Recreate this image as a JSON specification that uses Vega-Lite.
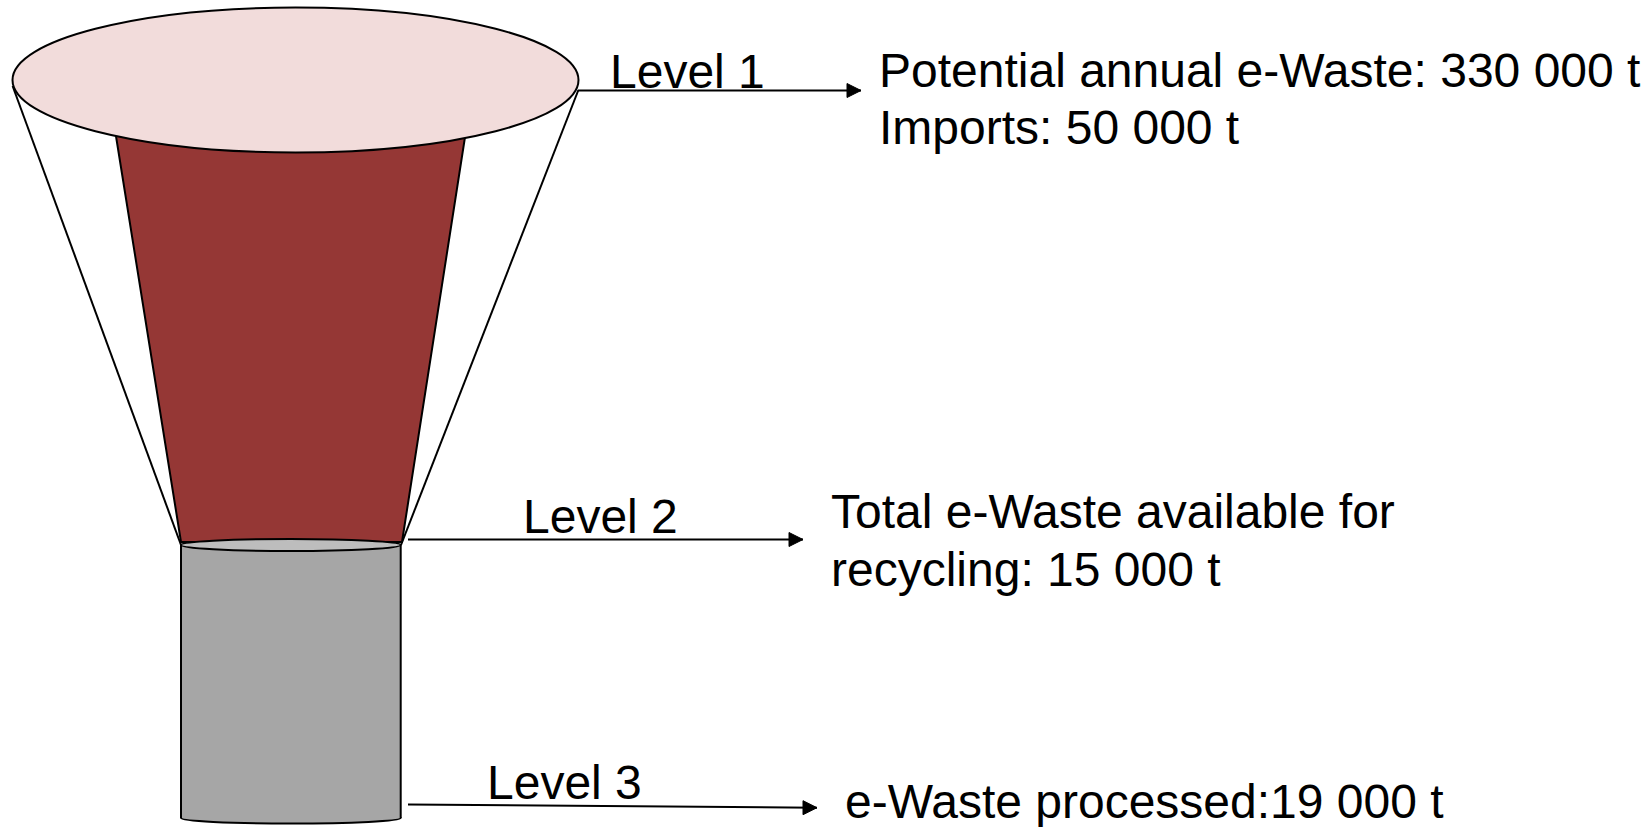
{
  "$schema": "https://vega.github.io/schema/vega-lite/v6.json",
  "width": 1649,
  "height": 827,
  "padding": 0,
  "autosize": {"type": "none"},
  "background": "white",
  "config": {"view": {"stroke": null}},
  "datasets": {
    "edges": [
      {"part": "outer-left", "x": 12.6, "y": 86, "x2": 181, "y2": 545},
      {"part": "outer-right", "x": 578.4, "y": 90, "x2": 401, "y2": 545}
    ],
    "trapezoid": [
      {"y": 105, "xl": 111, "xr": 470},
      {"y": 542, "xl": 181, "xr": 402}
    ],
    "cylinder": [
      {"x": 181, "x2": 400.7, "y": 545, "y2": 818}
    ],
    "cylsides": [
      {"x": 181, "y": 545, "x2": 181, "y2": 818},
      {"x": 400.7, "y": 545, "x2": 400.7, "y2": 818}
    ],
    "bottomEllipse": [{"x": 290.85, "y": 818}],
    "neckEllipse": [{"x": 290.85, "y": 545}],
    "topEllipse": [{"x": 295.5, "y": 80}],
    "arrows": [
      {"level": "Level 1", "x": 578, "y": 90.5, "x2": 861, "y2": 90.5},
      {"level": "Level 2", "x": 408, "y": 539.5, "x2": 803, "y2": 539.5},
      {"level": "Level 3", "x": 408, "y": 804.5, "x2": 817, "y2": 807.7}
    ],
    "labels": [
      {"text": "Level 1", "x": 610, "y": 88},
      {"text": "Potential annual e-Waste: 330 000 t", "x": 879, "y": 87},
      {"text": "Imports: 50 000 t", "x": 879, "y": 144},
      {"text": "Level 2", "x": 523, "y": 533},
      {"text": "Total e-Waste available for", "x": 831, "y": 528},
      {"text": "recycling: 15 000 t", "x": 831, "y": 586},
      {"text": "Level 3", "x": 487, "y": 799},
      {"text": "e-Waste processed:19 000 t", "x": 845, "y": 818}
    ]
  },
  "layer": [
    {
      "data": {"name": "edges"},
      "mark": {"type": "rule", "stroke": "black", "strokeWidth": 2},
      "encoding": {
        "x": {"field": "x", "type": "quantitative", "scale": {"domain": [0, 1649], "nice": false, "zero": false}, "axis": null},
        "y": {"field": "y", "type": "quantitative", "scale": {"domain": [0, 827], "nice": false, "zero": false, "reverse": true}, "axis": null},
        "x2": {"field": "x2"},
        "y2": {"field": "y2"}
      }
    },
    {
      "data": {"name": "trapezoid"},
      "mark": {"type": "area", "orient": "horizontal", "fill": "#953735", "stroke": "black", "strokeWidth": 2, "opacity": 1},
      "encoding": {
        "y": {"field": "y", "type": "quantitative"},
        "x": {"field": "xl", "type": "quantitative"},
        "x2": {"field": "xr"}
      }
    },
    {
      "data": {"name": "bottomEllipse"},
      "mark": {"type": "point", "filled": true, "fill": "#a6a6a6", "stroke": "black", "strokeWidth": 2, "opacity": 1, "size": 48268,
        "shape": "M -1 0 C -1 0.0276 -0.5523 0.05 0 0.05 C 0.5523 0.05 1 0.0276 1 0 C 1 -0.0276 0.5523 -0.05 0 -0.05 C -0.5523 -0.05 -1 -0.0276 -1 0 Z"},
      "encoding": {
        "x": {"field": "x", "type": "quantitative"},
        "y": {"field": "y", "type": "quantitative"}
      }
    },
    {
      "data": {"name": "cylinder"},
      "mark": {"type": "rect", "fill": "#a6a6a6", "strokeWidth": 0},
      "encoding": {
        "x": {"field": "x", "type": "quantitative"},
        "x2": {"field": "x2"},
        "y": {"field": "y", "type": "quantitative"},
        "y2": {"field": "y2"}
      }
    },
    {
      "data": {"name": "cylsides"},
      "mark": {"type": "rule", "stroke": "black", "strokeWidth": 2},
      "encoding": {
        "x": {"field": "x", "type": "quantitative"},
        "y": {"field": "y", "type": "quantitative"},
        "x2": {"field": "x2"},
        "y2": {"field": "y2"}
      }
    },
    {
      "data": {"name": "neckEllipse"},
      "mark": {"type": "point", "filled": true, "fill": "#bdbdbd", "stroke": "black", "strokeWidth": 2, "opacity": 1, "size": 48268,
        "shape": "M -1 0 C -1 0.0301 -0.5523 0.0545 0 0.0545 C 0.5523 0.0545 1 0.0301 1 0 C 1 -0.0301 0.5523 -0.0545 0 -0.0545 C -0.5523 -0.0545 -1 -0.0301 -1 0 Z"},
      "encoding": {
        "x": {"field": "x", "type": "quantitative"},
        "y": {"field": "y", "type": "quantitative"}
      }
    },
    {
      "data": {"name": "topEllipse"},
      "mark": {"type": "point", "filled": true, "fill": "#f2dcdb", "stroke": "black", "strokeWidth": 2, "opacity": 1, "size": 320356,
        "shape": "M -1 0 C -1 0.1415 -0.5523 0.2562 0 0.2562 C 0.5523 0.2562 1 0.1415 1 0 C 1 -0.1415 0.5523 -0.2562 0 -0.2562 C -0.5523 -0.2562 -1 -0.1415 -1 0 Z"},
      "encoding": {
        "x": {"field": "x", "type": "quantitative"},
        "y": {"field": "y", "type": "quantitative"}
      }
    },
    {
      "data": {"name": "arrows"},
      "mark": {"type": "rule", "stroke": "black", "strokeWidth": 2},
      "encoding": {
        "x": {"field": "x", "type": "quantitative"},
        "y": {"field": "y", "type": "quantitative"},
        "x2": {"field": "x2"},
        "y2": {"field": "y2"}
      }
    },
    {
      "data": {"name": "arrows"},
      "mark": {"type": "point", "filled": true, "fill": "black", "stroke": "black", "strokeWidth": 1, "opacity": 1, "size": 196,
        "shape": "M 0 0 L -2 -1 L -2 1 Z"},
      "encoding": {
        "x": {"field": "x2", "type": "quantitative"},
        "y": {"field": "y2", "type": "quantitative"}
      }
    },
    {
      "data": {"name": "labels"},
      "mark": {"type": "text", "align": "left", "baseline": "alphabetic", "font": "Liberation Sans", "fontSize": 48, "fill": "black"},
      "encoding": {
        "x": {"field": "x", "type": "quantitative"},
        "y": {"field": "y", "type": "quantitative"},
        "text": {"field": "text", "type": "nominal"}
      }
    }
  ]
}
